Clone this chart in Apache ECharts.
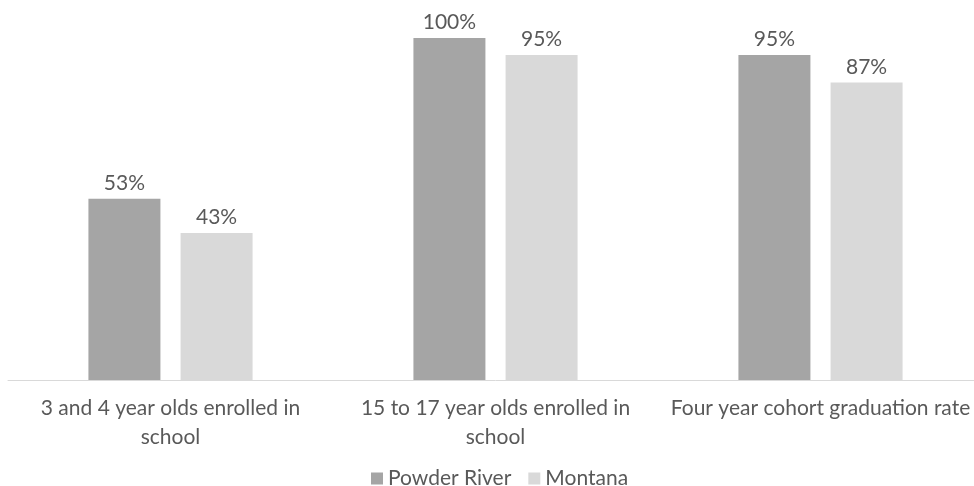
<!DOCTYPE html>
<html>
<head>
<meta charset="utf-8">
<script src="https://cdn.jsdelivr.net/npm/echarts@6/dist/echarts.min.js"></script>
<style>html,body{margin:0;padding:0;background:#fff;overflow:hidden}#c{width:983px;height:486px}</style>
</head>
<body>
<div id="c"></div>
<script>
const categories = ["3 and 4 year olds enrolled in\nschool", "15 to 17 year olds enrolled in\nschool", "Four year cohort graduation rate"];
const powderRiver = [53, 100, 95];
const montana = [43, 95, 87];
const seriesNames = ["Powder River", "Montana"];

const chart = echarts.init(document.getElementById('c'));
const font = 'Lato, "Noto Sans", sans-serif';
const labelStyle = {show: true, position: 'top', distance: 5, color: '#595959', fontFamily: font, fontSize: 21, formatter: p => p.value + '%'};
chart.setOption({
  animation: false,
  textStyle: {fontFamily: font},
  grid: {left: 8, right: 0, top: 38, bottom: 106},
  legend: {
    data: seriesNames, top: 463, left: 366, itemWidth: 12, itemHeight: 12, itemGap: 17,
    icon: 'rect', textStyle: {color: '#595959', fontSize: 21, fontFamily: font}
  },
  xAxis: {
    type: 'category', data: categories,
    axisLine: {lineStyle: {color: '#D9D9D9', width: 1}},
    axisTick: {show: false},
    axisLabel: {color: '#595959', fontSize: 21, fontFamily: font, lineHeight: 29, margin: 14, interval: 0}
  },
  yAxis: {type: 'value', min: 0, max: 100, show: false, splitLine: {show: false}},
  series: [
    {name: seriesNames[0], type: 'bar', data: powderRiver, barWidth: 72, barGap: '28%', itemStyle: {color: '#A5A5A5'}, label: labelStyle},
    {name: seriesNames[1], type: 'bar', data: montana, barWidth: 72, itemStyle: {color: '#D9D9D9'}, label: labelStyle}
  ]
});
</script>
</body>
</html>
